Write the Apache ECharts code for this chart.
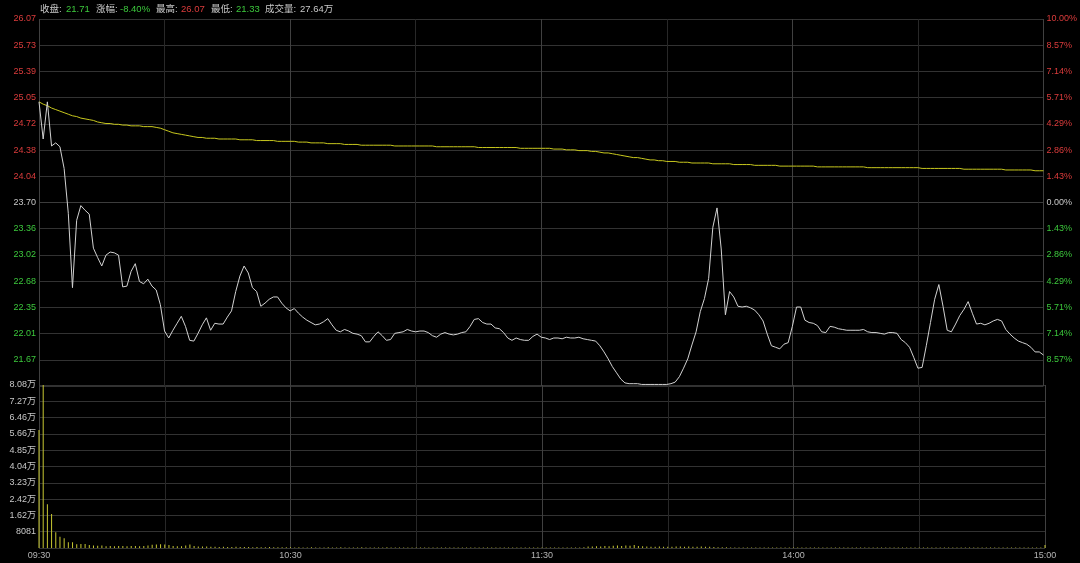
<!DOCTYPE html>
<html><head><meta charset="utf-8">
<script src="https://cdn.jsdelivr.net/npm/echarts@6/dist/echarts.min.js"></script>
<style>html,body{margin:0;padding:0;background:#000;} #c{width:1080px;height:563px;}</style>
</head><body><div id="c"></div>
<script>
// ---- data ----
const timeTicks = ['09:30', '10:30', '11:30', '14:00', '15:00'];
const priceTicks = ['', '21.67', '22.01', '22.35', '22.68', '23.02', '23.36', '23.70', '24.04', '24.38', '24.72', '25.05', '25.39', '25.73', '26.07'];
const pctTicks = ['', '8.57%', '7.14%', '5.71%', '4.29%', '2.86%', '1.43%', '0.00%', '1.43%', '2.86%', '4.29%', '5.71%', '7.14%', '8.57%', '10.00%'];
const volTicks = ['', '8081', '1.62万', '2.42万', '3.23万', '4.04万', '4.85万', '5.66万', '6.46万', '7.27万', '8.08万'];
const headerLabels = ['收盘:', '涨幅:', '最高:', '最低:', '成交量:'];
const headerValues = ['21.71', '-8.40%', '26.07', '21.33', '27.64万'];
const prevClose = 23.70;
const priceMin = 21.33, priceMax = 26.07;
const volMax = 80810;

const price = [
25.00,24.52,25.00,24.43,24.47,24.42,24.14,23.56,22.60,23.47,
23.66,23.60,23.55,23.11,22.99,22.88,23.02,23.06,23.05,23.02,
22.61,22.62,22.81,22.91,22.68,22.65,22.71,22.62,22.57,22.38,
22.04,21.95,22.05,22.14,22.23,22.10,21.92,21.91,22.01,22.12,
22.21,22.05,22.14,22.13,22.13,22.22,22.30,22.55,22.75,22.88,
22.79,22.60,22.55,22.36,22.40,22.45,22.48,22.48,22.40,22.34,
22.30,22.33,22.27,22.22,22.18,22.15,22.12,22.13,22.16,22.20,
22.12,22.05,22.03,22.06,22.04,22.01,22.00,21.98,21.90,21.90,
21.97,22.03,21.98,21.92,21.93,22.01,22.02,22.03,22.06,22.04,
22.03,22.04,22.04,22.02,21.98,21.96,22.00,22.02,22.00,21.99,
22.00,22.02,22.03,22.10,22.19,22.20,22.15,22.13,22.13,22.08,
22.07,22.02,21.95,21.92,21.95,21.93,21.92,21.92,21.97,22.00,
21.96,21.95,21.93,21.95,21.95,21.94,21.96,21.95,21.95,21.96,
21.94,21.93,21.92,21.91,21.85,21.77,21.68,21.58,21.50,21.42,
21.37,21.36,21.36,21.36,21.35,21.35,21.35,21.35,21.35,21.35,
21.35,21.36,21.38,21.45,21.56,21.68,21.86,22.03,22.29,22.46,
22.72,23.38,23.63,23.10,22.25,22.55,22.48,22.36,22.35,22.36,
22.34,22.31,22.25,22.17,22.00,21.85,21.83,21.81,21.87,21.89,
22.10,22.35,22.35,22.18,22.15,22.14,22.11,22.03,22.02,22.10,
22.09,22.07,22.06,22.05,22.05,22.05,22.05,22.06,22.03,22.02,
22.02,22.01,22.00,22.02,22.02,22.01,21.93,21.89,21.83,21.70,
21.56,21.57,21.85,22.15,22.45,22.64,22.36,22.05,22.03,22.13,
22.24,22.32,22.42,22.27,22.13,22.14,22.12,22.14,22.17,22.19,
22.17,22.06,22.00,21.95,21.91,21.89,21.87,21.83,21.77,21.77,
21.73
];

const avgPrice = [
25.00,24.97,24.95,24.92,24.90,24.88,24.86,24.84,24.82,24.81,
24.79,24.78,24.77,24.76,24.74,24.73,24.72,24.72,24.71,24.71,
24.70,24.70,24.69,24.69,24.69,24.68,24.68,24.68,24.67,24.66,
24.64,24.62,24.60,24.59,24.58,24.57,24.56,24.55,24.54,24.54,
24.53,24.53,24.53,24.52,24.52,24.52,24.52,24.52,24.51,24.51,
24.51,24.51,24.50,24.50,24.50,24.50,24.50,24.49,24.49,24.49,
24.49,24.49,24.48,24.48,24.48,24.47,24.47,24.47,24.47,24.46,
24.46,24.46,24.46,24.45,24.45,24.45,24.45,24.44,24.44,24.44,
24.44,24.44,24.44,24.44,24.44,24.43,24.43,24.43,24.43,24.43,
24.43,24.43,24.43,24.43,24.43,24.42,24.42,24.42,24.42,24.42,
24.42,24.42,24.42,24.42,24.42,24.41,24.41,24.41,24.41,24.41,
24.41,24.41,24.41,24.41,24.41,24.40,24.40,24.40,24.40,24.40,
24.40,24.40,24.40,24.39,24.39,24.39,24.38,24.38,24.38,24.37,
24.37,24.37,24.36,24.36,24.35,24.34,24.34,24.33,24.32,24.31,
24.30,24.29,24.28,24.28,24.27,24.26,24.25,24.25,24.24,24.24,
24.23,24.23,24.23,24.22,24.22,24.22,24.21,24.21,24.21,24.21,
24.21,24.20,24.20,24.20,24.20,24.20,24.19,24.19,24.19,24.19,
24.19,24.18,24.18,24.18,24.18,24.18,24.18,24.17,24.17,24.17,
24.17,24.17,24.17,24.17,24.17,24.17,24.16,24.16,24.16,24.16,
24.16,24.16,24.16,24.16,24.16,24.16,24.16,24.16,24.15,24.15,
24.15,24.15,24.15,24.15,24.15,24.15,24.15,24.15,24.15,24.15,
24.15,24.14,24.14,24.14,24.14,24.14,24.14,24.14,24.14,24.14,
24.14,24.13,24.13,24.13,24.13,24.13,24.13,24.13,24.13,24.13,
24.13,24.12,24.12,24.12,24.12,24.12,24.12,24.12,24.11,24.11,
24.11
];

const volume = [
58500,80810,21700,16900,7800,5600,4800,2800,2800,1800,
2000,2000,1500,1200,1100,1200,900,1000,900,1000,
1000,900,1000,1000,900,1000,1300,1600,1700,1800,
1700,1500,1000,900,900,1200,1700,1000,800,700,
700,600,600,500,600,500,500,600,500,500,
500,400,500,400,400,500,400,400,400,400,
400,300,400,300,300,400,300,300,300,400,
300,300,400,300,300,300,300,400,300,300,
300,300,300,400,300,300,300,300,300,300,
300,300,300,300,300,300,300,300,300,300,
300,300,300,300,300,300,300,300,300,300,
300,300,300,300,300,300,300,300,300,300,
300,300,300,300,300,300,300,300,300,300,
400,800,700,900,800,1000,900,1100,1200,1000,
1300,1100,1500,1000,900,700,600,600,700,600,
600,600,700,800,600,700,600,600,700,600,
600,500,400,400,400,300,300,300,300,300,
300,300,300,300,300,300,300,300,300,300,
250,250,300,250,250,250,300,250,250,250,
250,250,250,300,250,250,250,250,250,250,
250,250,250,250,250,250,300,250,250,250,
250,250,300,250,250,250,250,250,250,250,
250,250,250,250,250,250,250,250,250,250,
250,250,250,250,250,250,250,250,300,300,
1500
];

// ---- chart ----
const RED = '#dc3c3c', GREEN = '#3cc83c', WHITE = '#c8c8c8';
const FONT = '"Liberation Sans", Arial, "Noto Sans CJK SC", sans-serif';
const pStep = (priceMax - priceMin) / 14;
const tickIdx = v => Math.round((v - priceMin) / pStep);
const priceColor = v => { const k = tickIdx(v); return k > 7 ? RED : (k === 7 ? WHITE : GREEN); };
const hColors = []; for (let k = 0; k <= 14; k++) hColors.push(k === 7 ? '#3c3c3c' : '#323232');
const vColors = ['#404040', '#282828'];

const linePts = price.map((p, i) => [i, p]);
const avgPts = avgPrice.map((p, i) => [i, p]);
const volPts = volume.map((v, i) => [i, v]);

const headerX = [[40, 66], [96, 120], [156, 181], [211, 236], [265, 300]];
const headerColors = [GREEN, GREEN, RED, GREEN, WHITE];
const graphics = [];
headerLabels.forEach((t, k) => {
  graphics.push({type: 'text', left: headerX[k][0], top: 5, style: {text: t, fill: WHITE, fontSize: 9.5, fontFamily: FONT}});
  graphics.push({type: 'text', left: headerX[k][1], top: 5, style: {text: headerValues[k], fill: headerColors[k], fontSize: 9.5, fontFamily: FONT}});
});

const chart = echarts.init(document.getElementById('c'));
chart.setOption({
  backgroundColor: '#000',
  animation: false,
  textStyle: {fontFamily: FONT},
  graphic: graphics,
  grid: [
    {left: 39, right: 35, top: 19, height: 367},
    {left: 39, right: 35, top: 385, height: 163}
  ],
  xAxis: [
    {type: 'value', gridIndex: 0, min: 0, max: 240, interval: 30,
     axisLabel: {show: false}, axisTick: {show: false},
     axisLine: {show: false},
     splitLine: {show: true, lineStyle: {color: vColors, width: 1}}},
    {type: 'value', gridIndex: 1, min: 0, max: 240, interval: 30,
     axisTick: {show: false}, axisLine: {show: false},
     axisLabel: {color: '#b4b4b4', fontSize: 9, margin: 3, showMinLabel: true, showMaxLabel: true,
       formatter: v => (v % 60 === 0 ? timeTicks[v / 60] : '')},
     splitLine: {show: true, lineStyle: {color: vColors, width: 1}}}
  ],
  yAxis: [
    {type: 'value', gridIndex: 0, min: priceMin, max: priceMax, interval: pStep, position: 'left',
     axisTick: {show: false}, axisLine: {show: false},
     axisLabel: {fontSize: 9, margin: 3, showMinLabel: true, showMaxLabel: true,
       formatter: v => priceTicks[tickIdx(v)] || '',
       color: v => priceColor(v)},
     splitLine: {show: true, lineStyle: {color: hColors, width: 1}}},
    {type: 'value', gridIndex: 0, min: priceMin, max: priceMax, interval: pStep, position: 'right',
     axisTick: {show: false}, axisLine: {show: false},
     axisLabel: {fontSize: 9, margin: 3, showMinLabel: true, showMaxLabel: true,
       formatter: v => pctTicks[tickIdx(v)] || '',
       color: v => priceColor(v)},
     splitLine: {show: false}},
    {type: 'value', gridIndex: 1, min: 0, max: volMax, interval: volMax / 10, position: 'left',
     axisTick: {show: false}, axisLine: {show: false},
     axisLabel: {fontSize: 9, margin: 3, color: WHITE, showMinLabel: true, showMaxLabel: true,
       formatter: v => volTicks[Math.round(v / (volMax / 10))] || ''},
     splitLine: {show: true, lineStyle: {color: '#323232', width: 1}}}
  ],
  series: [
    {type: 'bar', xAxisIndex: 1, yAxisIndex: 2, data: volPts, barWidth: 1,
     itemStyle: {color: '#c8c832'}, silent: true},
    {type: 'line', xAxisIndex: 0, yAxisIndex: 0, data: avgPts, showSymbol: false,
     lineStyle: {color: '#c8c81e', width: 1}, silent: true},
    {type: 'line', xAxisIndex: 0, yAxisIndex: 0, data: linePts, showSymbol: false,
     lineStyle: {color: '#d2d2d2', width: 1}, silent: true}
  ]
});
</script>
</body></html>
